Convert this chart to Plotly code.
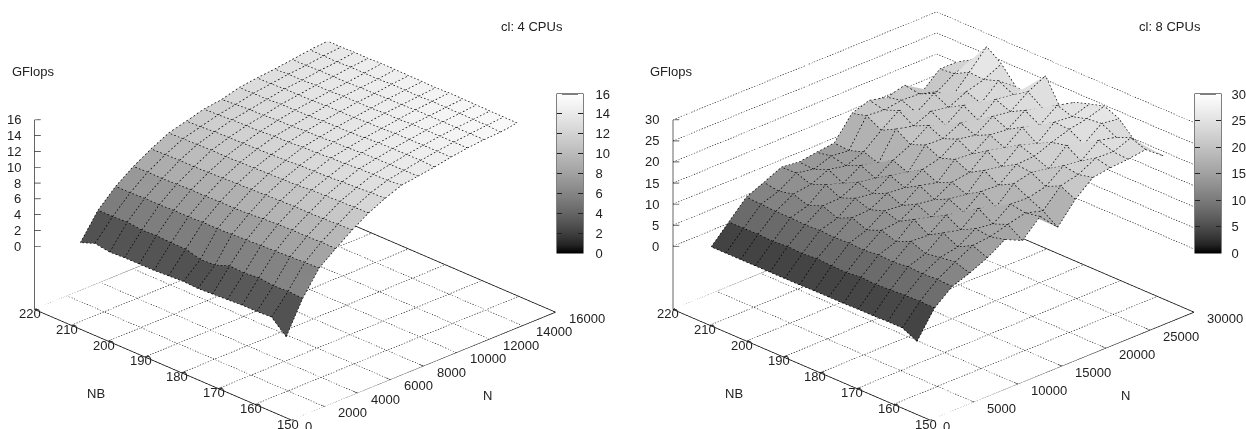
import math
import plotly.graph_objects as go

NB_ROWS = [156,160,164,168,172,176,180,184,188,192,196,200,204,208,212]
COL_COUNT = 15
N_FIRST_4 = 1000
N_LAST_4 = [15000,15070,15140,15210,15280,15350,15420,15500,15570,15640,15710,15780,15850,15930,16000]
Z_4 = [
[0.5,4.5,7.5,9.1,10.6,11.9,12.9,13.7,14.0,14.3,14.7,15.0,15.2,15.3,15.6],
[2.2,4.6,7.4,9.1,10.5,11.8,12.8,13.5,13.9,14.3,14.6,14.9,15.1,15.3,15.5],
[2.1,4.5,7.3,9.0,10.4,11.7,12.6,13.4,13.8,14.2,14.5,14.8,15.0,15.2,15.4],
[2.1,4.7,7.2,9.0,10.3,11.6,12.5,13.3,13.7,14.1,14.4,14.7,14.9,15.1,15.3],
[2.0,4.5,7.1,8.9,10.3,11.5,12.3,13.1,13.6,14.0,14.3,14.6,14.8,15.0,15.2],
[1.9,4.6,7.0,8.8,10.2,11.3,12.2,13.0,13.4,13.8,14.1,14.4,14.7,14.9,15.1],
[1.8,3.9,6.9,8.6,10.1,11.2,12.1,12.8,13.3,13.6,14.0,14.3,14.5,14.7,14.9],
[1.9,3.8,6.8,8.5,10.0,11.1,11.9,12.7,13.1,13.5,13.8,14.1,14.4,14.6,14.8],
[1.8,4.3,6.8,8.5,9.9,11.0,11.8,12.5,13.0,13.4,13.7,14.0,14.2,14.5,14.7],
[1.7,4.3,6.7,8.4,9.8,10.9,11.7,12.4,12.8,13.2,13.6,13.9,14.1,14.3,14.6],
[1.7,4.4,6.7,8.4,9.7,10.8,11.6,12.2,12.7,13.1,13.4,13.7,13.9,14.2,14.5],
[1.7,4.3,6.6,8.3,9.6,10.8,11.5,12.1,12.5,13.0,13.3,13.6,13.8,14.1,14.3],
[1.6,4.5,6.6,8.2,9.6,10.7,11.4,12.0,12.4,12.8,13.2,13.4,13.7,13.9,14.2],
[1.9,4.4,6.5,8.2,9.5,10.6,11.2,11.8,12.2,12.7,13.0,13.3,13.5,13.8,14.0],
[1.2,4.4,6.5,8.1,9.4,10.5,11.1,11.7,12.0,12.6,12.9,13.1,13.4,13.7,13.9],
]
N_8 = [1000,3000,5000,7000,9000,11000,13000,15000,17000,19000,21000,23000,25000,27000,29000]
Z_8 = [
[0.6,6.8,10.2,11.7,13.6,16.2,14.3,18.3,14.0,18.9,22.4,23.0,23.3,23.9,20.7],
[2.3,6.9,10.4,12.8,15.0,15.4,16.6,17.6,16.4,20.6,21.6,23.8,23.6,25.2,21.0],
[2.3,6.8,10.2,12.4,13.2,15.8,15.2,18.2,18.0,19.0,22.2,21.6,24.8,23.8,21.6],
[2.2,6.6,10.4,11.8,15.0,14.0,17.4,16.0,19.8,20.8,20.0,23.8,22.4,25.6,25.0],
[2.2,6.4,10.0,13.2,13.0,16.0,15.0,18.2,18.0,21.2,21.4,23.0,24.4,25.2,26.5],
[2.1,6.6,10.2,11.6,15.2,14.0,16.6,16.0,20.0,19.2,22.6,21.2,24.6,24.2,25.5],
[2.1,6.2,9.8,12.8,13.2,15.6,15.0,17.4,18.0,21.4,20.4,23.6,22.4,25.4,24.4],
[2.1,6.3,10.0,11.4,14.2,13.8,16.8,15.8,19.6,19.2,22.0,21.6,24.4,23.2,21.6],
[2.0,6.5,9.8,12.8,13.0,15.2,14.8,17.4,18.4,21.2,20.4,23.2,22.6,25.6,27.7],
[2.0,6.2,10.0,11.2,14.2,13.6,16.2,15.2,20.0,19.8,21.8,20.8,24.0,23.4,22.0],
[2.0,6.4,9.8,12.6,12.8,14.8,14.0,16.6,18.6,21.4,19.8,22.8,21.6,25.2,22.0],
[2.0,6.1,10.0,11.2,14.4,13.0,15.6,14.4,20.8,19.8,21.6,20.8,22.8,24.0,26.0],
[2.0,6.3,10.0,12.4,13.0,14.8,14.0,15.6,19.0,22.0,19.8,22.6,20.0,24.2,28.6],
[2.0,6.2,10.2,11.6,14.2,13.4,14.8,14.4,21.0,20.6,21.2,21.0,19.8,22.4,24.0],
[2.0,6.2,10.4,12.2,14.1,13.6,14.2,14.7,20.0,21.4,20.4,21.6,18.3,22.0,22.0],
]
NB_TICKS = [150,160,170,180,190,200,210,220]
N_TICKS_4 = [0,2000,4000,6000,8000,10000,12000,14000,16000]
N_TICKS_8 = [0,5000,10000,15000,20000,25000,30000]
Z_TICKS_4 = [0,2,4,6,8,10,12,14,16]
Z_TICKS_8 = [0,5,10,15,20,25,30]
NB_RANGE = [150,220]

GRAY = [[i/20, "rgb({0},{0},{0})".format(round(255*(i/20)**(1/1.5)))] for i in range(21)]
FONT = "Liberation Sans, Helvetica, Arial, sans-serif"
TXT = "#222222"
fig = go.Figure()
R = 4.0
DIR = (-0.634, -0.650, 0.420)
CAM_EYE = dict(x=DIR[0]*R, y=DIR[1]*R, z=DIR[2]*R)
SCALE = 1.73
Z_ASPECT = 0.567


def line(scene, xs, ys, zs, color="black", width=1):
    fig.add_trace(go.Scatter3d(x=xs, y=ys, z=zs, mode="lines", scene=scene, showlegend=False,
                               hoverinfo="skip", connectgaps=False, line=dict(color=color, width=width)))


def panel(scene, Ngrid, Zgrid, zticks, nticks, zfloor, walls, cbar_x, label_gap):
    nr, nc = len(Zgrid), len(Zgrid[0])
    Nmax = nticks[-1]
    zmax = zticks[-1]
    nb0, nb1 = NB_RANGE

    def dotted(xs, ys, zs, on, off, color, width, toward=0.0):
        # break a polyline into short dashes, spaced in screen pixels along its path
        ox, oy, oz = [], [], []
        shift = (DIR[0]*toward*Nmax, DIR[1]*toward*(nb1-nb0), DIR[2]*toward/Z_ASPECT*(zmax-zfloor))
        period = on + off
        for p in range(len(xs) - 1):
            da = (xs[p+1]-xs[p])/Nmax
            db = (ys[p+1]-ys[p])/(nb1-nb0)
            dc = (zs[p+1]-zs[p])/(zmax-zfloor)
            px = math.hypot(264.3*da-257.7*db, 107.4*da+111.7*db+190*dc)
            n = max(1, int(px/period))
            for k in range(n):
                t0, t1 = k/n, (k+on/period)/n
                for t in (t0, t1):
                    ox.append(xs[p]+t*(xs[p+1]-xs[p])+shift[0])
                    oy.append(ys[p]+t*(ys[p+1]-ys[p])+shift[1])
                    oz.append(zs[p]+t*(zs[p+1]-zs[p])+shift[2])
                ox.append(None); oy.append(None); oz.append(None)
        line(scene, ox, oy, oz, color=color, width=width)

    xs, ys, zs, ii, jj, kk, cell = [], [], [], [], [], [], []
    for r in range(nr):
        for c in range(nc):
            xs.append(Ngrid[r][c]); ys.append(NB_ROWS[r]); zs.append(Zgrid[r][c])
    for r in range(nr - 1):
        for c in range(nc - 1):
            a, b, d, e = r*nc+c, r*nc+c+1, (r+1)*nc+c, (r+1)*nc+c+1
            avg = (Zgrid[r][c]+Zgrid[r][c+1]+Zgrid[r+1][c]+Zgrid[r+1][c+1])/4
            ii += [a, b]; jj += [b, e]; kk += [d, d]; cell += [avg, avg]
    fig.add_trace(go.Mesh3d(x=xs, y=ys, z=zs, i=ii, j=jj, k=kk, intensity=cell, intensitymode="cell",
                            colorscale=GRAY, cmin=0, cmax=zmax, scene=scene, flatshading=True, hoverinfo="skip",
                            lighting=dict(ambient=1, diffuse=0, specular=0, roughness=1, fresnel=0),
                            colorbar=dict(x=cbar_x/1246, xanchor="left", y=(429-253)/429, yanchor="bottom", lenmode="pixels", len=159,
                                          thicknessmode="pixels", thickness=26, xpad=0, ypad=0, outlinecolor="black", outlinewidth=1,
                                          ticks="outside", ticklen=label_gap, tickcolor="rgba(0,0,0,0)", tickvals=zticks, ticktext=[str(t) for t in zticks],
                                          tickfont=dict(family=FONT, size=13, color=TXT))))
    # thin strips on both inner sides of the bar carry gnuplot's double-sided inner ticks
    for strip_x in (cbar_x, cbar_x + 21):
        fig.add_trace(go.Mesh3d(x=[0, 0, 0], y=[nb0, nb0, nb0], z=[zfloor]*3, i=[0], j=[1], k=[2], intensity=[0, 0, 0],
                                colorscale=GRAY, cmin=0, cmax=zmax, scene=scene, hoverinfo="skip",
                                colorbar=dict(x=strip_x/1246, xanchor="left", y=(429-253)/429, yanchor="bottom", lenmode="pixels", len=159,
                                              thicknessmode="pixels", thickness=5, xpad=0, ypad=0, outlinewidth=0,
                                              ticks="inside", ticklen=5, tickwidth=1, tickcolor="#222", tickvals=zticks, showticklabels=False)))
    for r in range(nr):
        dotted(Ngrid[r], [NB_ROWS[r]]*nc, Zgrid[r], 1.6, 2.0, "black", 1.4, toward=0.012)
    for c in range(nc):
        dotted([Ngrid[r][c] for r in range(nr)], NB_ROWS, [Zgrid[r][c] for r in range(nr)], 1.6, 2.0, "black", 1.4, toward=0.012)
    for t in nticks[1:-1]:
        dotted([t, t], [nb0, nb1], [zfloor, zfloor], 1.3, 1.5, "black", 1.2)
    for t in NB_TICKS[1:-1]:
        dotted([0, Nmax], [t, t], [zfloor, zfloor], 1.3, 1.5, "black", 1.2)
    for pts in [((0, nb0), (Nmax, nb0)), ((Nmax, nb0), (Nmax, nb1)), ((Nmax, nb1), (0, nb1)), ((0, nb1), (0, nb0))]:
        line(scene, [pts[0][0], pts[1][0]], [pts[0][1], pts[1][1]], [zfloor, zfloor], width=1.5)
    line(scene, [0, 0], [nb1, nb1], [zfloor, zmax], color="#333", width=1.5)
    dN, dB = Nmax*0.012, 70*0.012
    for t in zticks:
        line(scene, [0, dN], [nb1, nb1-dB], [t, t], width=1.2)
        if walls:
            dotted([0, Nmax, Nmax], [nb1, nb1, nb0], [t, t, t], 1.3, 1.5, "black", 1.2)
    for t in nticks[1:-1]:
        line(scene, [t, t], [nb0, nb0+1.2], [zfloor, zfloor], width=1.2)
    for t in NB_TICKS[1:-1]:
        line(scene, [0, Nmax*0.017], [t, t], [zfloor, zfloor], width=1.2)
    ann = []
    base = dict(showarrow=False, font=dict(family=FONT, size=13, color=TXT))
    for t in zticks:
        ann.append(dict(x=0, y=nb1, z=t, text=str(t), xanchor="right", xshift=-11, yanchor="middle", **base))
    for t in NB_TICKS:
        ann.append(dict(x=0, y=t, z=zfloor, text=str(t), xanchor="center", xshift=-4, yanchor="middle", yshift=-4, **base))
    for t in nticks:
        ann.append(dict(x=t, y=nb0, z=zfloor, text=str(t), xanchor="left", xshift=11, yanchor="middle", yshift=-6, **base))
    return ann


def make_scene(ann, Nmax, zfloor, zmax, domain_x, domain_y):
    return dict(domain=dict(x=domain_x, y=domain_y), annotations=ann,
                xaxis=dict(visible=False, range=[0, Nmax]), yaxis=dict(visible=False, range=NB_RANGE),
                zaxis=dict(visible=False, range=[zfloor, zmax]), bgcolor="rgba(0,0,0,0)", aspectmode="manual",
                aspectratio=dict(x=SCALE, y=SCALE, z=Z_ASPECT*SCALE),
                camera=dict(eye=CAM_EYE, up=dict(x=0, y=0, z=1), center=dict(x=0, y=0, z=0), projection=dict(type="orthographic")))


N4 = [[N_FIRST_4 + c*(last-N_FIRST_4)/(COL_COUNT-1) for c in range(COL_COUNT)] for last in N_LAST_4]
N8 = [N_8 for _ in NB_ROWS]
ann4 = panel("scene", N4, Z_4, Z_TICKS_4, N_TICKS_4, -8, False, 557, 10)
ann8 = panel("scene2", N8, Z_8, Z_TICKS_8, N_TICKS_8, -15, True, 1195, 8)
layout_ann = []
for txt, x, y in [("GFlops", 10, 72), ("cl: 4 CPUs", 499, 27), ("NB", 85, 393), ("N", 481, 395),
                  ("GFlops", 648, 72), ("cl: 8 CPUs", 1137, 27), ("NB", 723, 393), ("N", 1119, 395)]:
    layout_ann.append(dict(xref="paper", yref="paper", x=x/1246, y=1-y/429, text=txt, showarrow=False, xanchor="left", yanchor="middle",
                           font=dict(family=FONT, size=13, color=TXT)))
fig.update_layout(width=1246, height=429, margin=dict(l=0, r=0, t=0, b=0, autoexpand=False), paper_bgcolor="white", plot_bgcolor="white",
                  scene=make_scene(ann4, 16000, -8, 16, [0, 590/1246], [0, 426/429]),
                  scene2=make_scene(ann8, 30000, -15, 30, [621.5/1246, 1244.5/1246], [0, 426/429]),
                  annotations=layout_ann, showlegend=False)
fig.write_html("out.html", post_script="document.body.style.margin='0';", config=dict(displayModeBar=False))
